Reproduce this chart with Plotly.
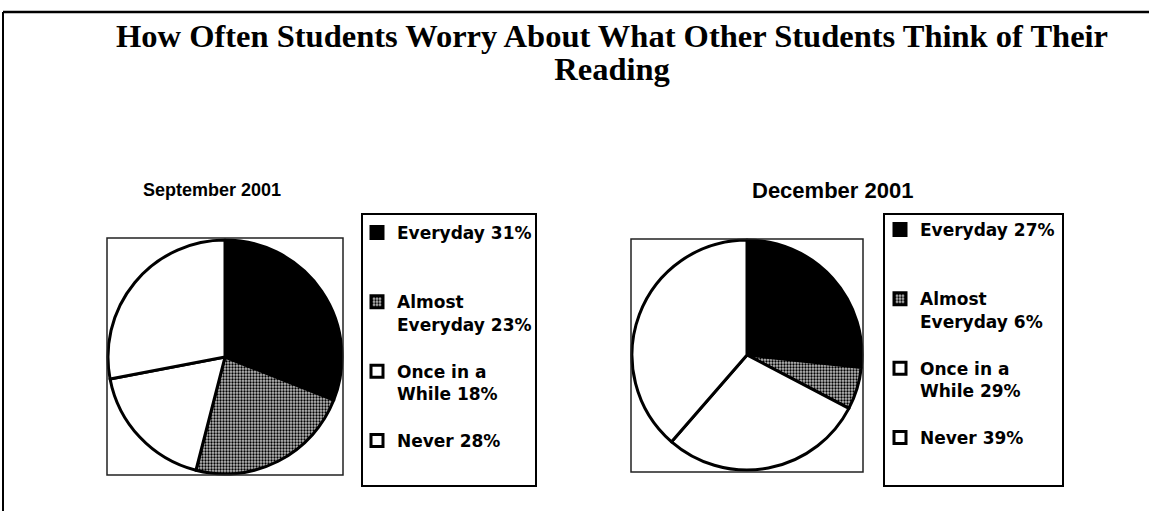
import plotly.graph_objects as go

# ---- data ----
categories = ["Everyday", "Almost Everyday", "Once in a While", "Never"]
sept_values = [31, 23, 18, 28]
dec_values = [27, 6, 29, 39]
label_templates = ["Everyday {v}%", "Almost<br>Everyday {v}%", "Once in a<br>While {v}%", "Never {v}%"]
title_lines = ["How Often Students Worry About What Other Students Think of Their", "Reading"]
sept_title = "September 2001"
dec_title = "December 2001"

# ---- styling ----
W, H = 1149, 511
pad_lines = ["<br> <br> ", "<br> ", "<br> ", ""]
slice_colors = ["black", "white", "white", "white"]
slice_patterns = ["", ".", "", ""]


def px_x(x):
    return x / W


def px_y(y):
    return 1 - y / H


def make_labels(values):
    return [t.format(v=v) + p for t, v, p in zip(label_templates, values, pad_lines)]


def pie(values, domain_px, legend_name):
    x0, x1, y0, y1 = domain_px
    return go.Pie(
        labels=make_labels(values),
        values=values,
        customdata=categories,
        sort=False,
        direction="clockwise",
        rotation=0,
        textinfo="none",
        hovertemplate="%{customdata}: %{value}%<extra></extra>",
        marker=dict(
            colors=slice_colors,
            line=dict(color="black", width=3),
            pattern=dict(shape=slice_patterns, fgcolor="black", bgcolor="#bdbdbd",
                         size=3, solidity=0.45, fillmode="replace"),
        ),
        domain=dict(x=[px_x(x0), px_x(x1)], y=[px_y(y1), px_y(y0)]),
        legend=legend_name,
        showlegend=True,
    )


fig = go.Figure()
fig.add_trace(pie(sept_values, (108, 342, 240, 474), "legend"))
fig.add_trace(pie(dec_values, (632, 862, 240, 470), "legend2"))

legend_font = dict(family="DejaVu Sans", size=17, color="black", weight="bold")
common_legend = dict(xanchor="left", yanchor="top", bgcolor="rgba(0,0,0,0)",
                     borderwidth=0, font=legend_font, valign="top",
                     traceorder="normal", itemclick=False, itemdoubleclick=False)

shapes = [
    # outer frame
    dict(type="line", xref="paper", yref="paper", x0=px_x(3), x1=px_x(1149), y0=px_y(12), y1=px_y(12),
         line=dict(color="black", width=2.5)),
    dict(type="line", xref="paper", yref="paper", x0=px_x(3), x1=px_x(3), y0=px_y(12), y1=px_y(511),
         line=dict(color="black", width=2)),
    # pie boxes
    dict(type="rect", xref="paper", yref="paper", x0=px_x(107), x1=px_x(343), y0=px_y(238), y1=px_y(475),
         line=dict(color="#222", width=1.5)),
    dict(type="rect", xref="paper", yref="paper", x0=px_x(631), x1=px_x(863), y0=px_y(239), y1=px_y(472),
         line=dict(color="#222", width=1.5)),
    # legend boxes
    dict(type="rect", xref="paper", yref="paper", x0=px_x(362), x1=px_x(536), y0=px_y(214), y1=px_y(486),
         line=dict(color="black", width=2)),
    dict(type="rect", xref="paper", yref="paper", x0=px_x(884), x1=px_x(1063), y0=px_y(214), y1=px_y(486),
         line=dict(color="black", width=2)),
]

# single two-line title; line pitch follows the 25px base size, glyphs drawn at 32.5px
title_text = "<br>".join('<span style="font-size:32.5px">%s</span>' % t for t in title_lines)
annotations = [
    dict(text=title_text, x=px_x(612), y=px_y(53), xref="paper", yref="paper",
         xanchor="center", yanchor="middle", showarrow=False,
         font=dict(family="Liberation Serif", size=25, color="black", weight="bold")),
    dict(text=sept_title, x=px_x(212), y=px_y(190), xref="paper", yref="paper",
         xanchor="center", yanchor="middle", showarrow=False,
         font=dict(family="Arial", size=18, color="black", weight="bold")),
    dict(text=dec_title, x=px_x(832), y=px_y(190), xref="paper", yref="paper",
         xanchor="center", yanchor="middle", showarrow=False,
         font=dict(family="Arial", size=22, color="black", weight="bold")),
]

fig.update_layout(
    width=W, height=H,
    margin=dict(l=0, r=0, t=0, b=0),
    paper_bgcolor="white", plot_bgcolor="white",
    legend=dict(x=px_x(357), y=px_y(215), **common_legend),
    legend2=dict(x=px_x(880), y=px_y(212), **common_legend),
    shapes=shapes,
    annotations=annotations,
)

fig.write_html("out.html", config={"displayModeBar": False},
               post_script="document.body.style.margin='0px';")
